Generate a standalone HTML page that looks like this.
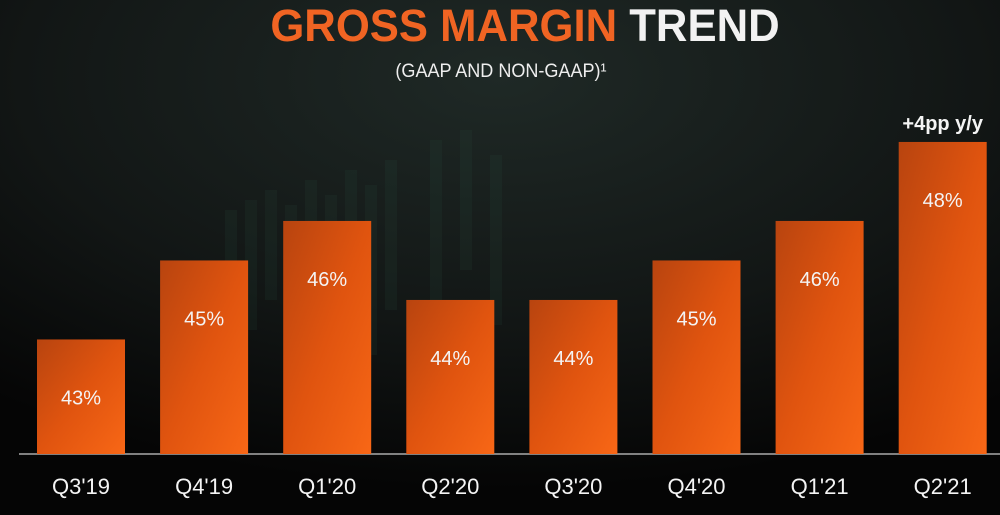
<!DOCTYPE html>
<html><head><meta charset="utf-8"><style>
body{margin:0;width:1000px;height:515px;overflow:hidden;background:#0a0c0c;font-family:"Liberation Sans",sans-serif}
#c{position:absolute;left:0;top:0}
</style></head><body>
<svg id="c" width="1000" height="515">
<defs>
<radialGradient id="bg" cx="0.5" cy="0.15" r="0.8"><stop offset="0" stop-color="#1f2926"/><stop offset="0.6" stop-color="#121615"/><stop offset="1" stop-color="#050505"/></radialGradient>
<linearGradient id="bar" x1="0" y1="0" x2="1" y2="1"><stop offset="0" stop-color="#b8440f"/><stop offset="0.5" stop-color="#e0540f"/><stop offset="1" stop-color="#f86716"/></linearGradient>
</defs>
<rect width="1000" height="515" fill="url(#bg)"/>
<g id="deco" opacity="0.12"></g>
<text x="525" y="41" text-anchor="middle" font-size="45" font-weight="bold" transform="translate(525,0) scale(0.97,1) translate(-525,0)"><tspan fill="#f06423">GROSS MARGIN </tspan><tspan fill="#f2f2f2">TREND</tspan></text>
<text x="501" y="77" text-anchor="middle" font-size="19" fill="#eee" transform="translate(501,0) scale(0.95,1) translate(-501,0)">(GAAP AND NON-GAAP)¹</text>
<line x1="19" y1="454" x2="1000" y2="454" stroke="#aaa" stroke-width="1.5"/>
<g id="bars"></g>
</svg>
<script>
const categories=["Q3'19","Q4'19","Q1'20","Q2'20","Q3'20","Q4'20","Q1'21","Q2'21"];
const values=[43,45,46,44,44,45,46,48];
const valueLabels=["43%","45%","46%","44%","44%","45%","46%","48%"];
const ns="http://www.w3.org/2000/svg";
const base=454,pxPer=39.5,vMin=40.1;
function y(v){return base-(v-vMin)*pxPer;}
function x(i){return 37+i*123.1;}
const bw=88;
const g=document.getElementById('bars');
function mk(t,a){const e=document.createElementNS(ns,t);for(const k in a)e.setAttribute(k,a[k]);return e;}
const d=document.getElementById('deco');
[[235,250,120],[255,240,130],[275,230,110],[295,245,140],[315,220,120],[335,235,150],[355,210,130],[375,225,170],[395,200,150],[440,180,160],[470,170,140],[500,195,170]].forEach(c=>{
 const r=mk('rect',{x:c[0]-10,y:c[1]-40,width:12,height:c[2],fill:'#2f5a48'});
 
 
 d.appendChild(r);
});
categories.forEach((c,i)=>{
 const top=y(values[i]);
 const r=mk('rect',{x:x(i),y:top,width:bw,height:base-top,fill:'url(#bar)'});
 
 
 g.appendChild(r);
 const t=mk('text',{x:x(i)+bw/2,y:top+65,'text-anchor':'middle','font-size':20,fill:'#f4f4f4'});
 t.textContent=valueLabels[i];
 
 
 g.appendChild(t);
 const l=mk('text',{x:x(i)+bw/2,y:494,'text-anchor':'middle','font-size':22,fill:'#f4f4f4'});
 l.textContent=c;
 
 
 g.appendChild(l);
});
const last=values.length-1;
const ann=mk('text',{x:x(last)+bw/2,y:y(values[last])-12,'text-anchor':'middle','font-size':20,'font-weight':'bold',fill:'#f4f4f4'});
ann.textContent='+4pp y/y';


g.appendChild(ann);
</script>
</body></html>
